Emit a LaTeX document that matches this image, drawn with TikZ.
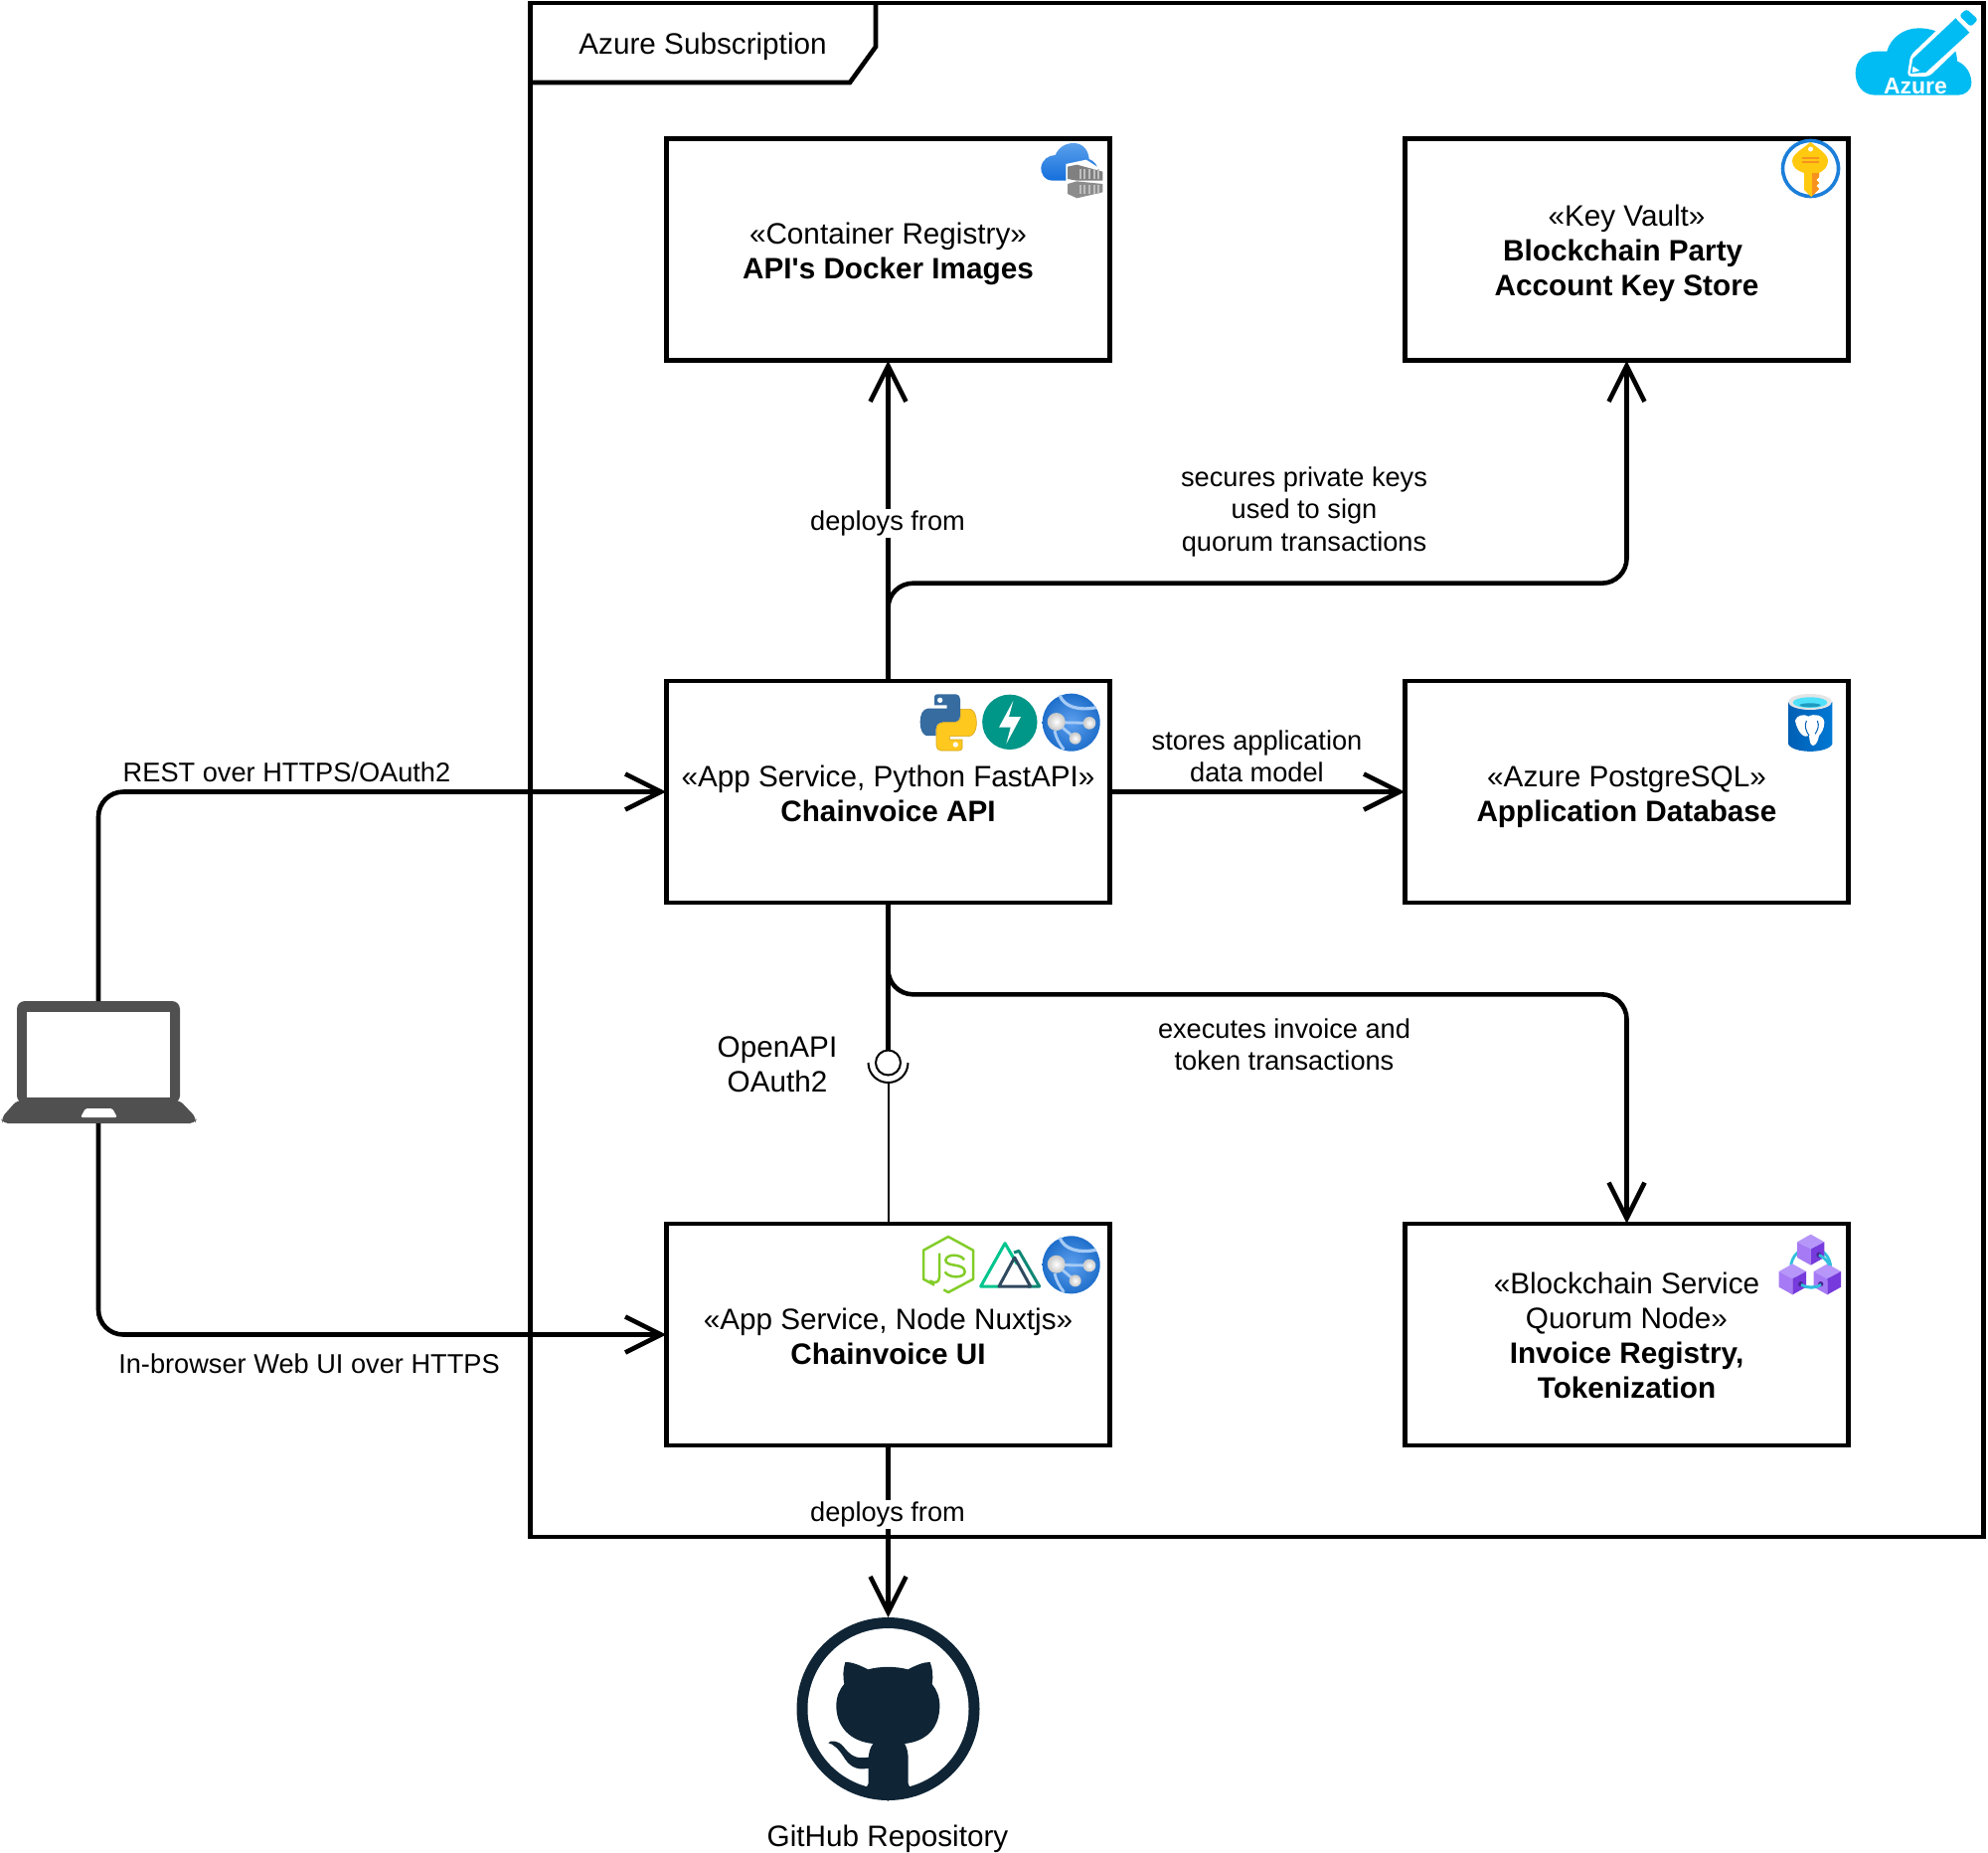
\documentclass[tikz,border=0pt]{standalone}
\usepackage{fontspec}
\setmainfont{Liberation Sans}
\usetikzlibrary{arrows.meta}
\definecolor{ghnavy}{HTML}{0F2536}
\definecolor{lapgrey}{HTML}{505050}
\definecolor{azcyan}{HTML}{00BCF2}
\definecolor{globemid}{HTML}{5EA0EF}
\definecolor{globeedge}{HTML}{1F6FCB}
\definecolor{globeline}{HTML}{A6CBF5}
\definecolor{cloudtop}{HTML}{5AA0EB}
\definecolor{cloudbot}{HTML}{146EDC}
\definecolor{kvblue}{HTML}{1B7FD9}
\definecolor{keygold}{HTML}{FFC90F}
\definecolor{keyorange}{HTML}{F7921E}
\definecolor{pyblue}{HTML}{366CA0}
\definecolor{pyyellow}{HTML}{FFC81E}
\definecolor{pyedge}{HTML}{D2A51E}
\definecolor{fastteal}{HTML}{009688}
\definecolor{pgdark}{HTML}{005FB4}
\definecolor{pglight}{HTML}{0078D4}
\definecolor{pgcyan}{HTML}{50E1FA}
\definecolor{pgdeep}{HTML}{1E9CC0}
\definecolor{nodegreen}{HTML}{83CD29}
\definecolor{nuxtgreen}{HTML}{00C58E}
\definecolor{nuxtdark}{HTML}{108775}
\definecolor{nuxtnavy}{HTML}{2F495E}
\definecolor{bccyan}{HTML}{32BEDD}
\definecolor{bctop}{HTML}{B796F9}
\definecolor{bcleft}{HTML}{A67AF4}
\definecolor{bcright}{HTML}{773ADC}
\definecolor{bcdot}{HTML}{46288F}
\tikzset{
  boxnode/.style={draw=black,line width=2.3pt,fill=white,minimum width=223pt,minimum height=111.5pt,inner sep=0pt},
  framenode/.style={draw=black,line width=2.3pt,inner sep=0pt},
  wire/.style={line width=2.3pt,rounded corners=12.5pt,shorten >=-1pt,-{Straight Barb[length=18pt,width=18pt,line width=2.3pt]}},
  plainwire/.style={line width=2.3pt},
  lbl/.style={font=\fontsize{13.6}{16.25}\selectfont,align=center,inner sep=1pt},
  lblbig/.style={font=\fontsize{14.85}{17.6}\selectfont,align=center,inner sep=1pt},
  whitebg/.style={fill=white},
  icon/.style={x=0.16667pt,y=-0.16667pt},
}
\newcommand{\appglobe}{%
  \shade[inner color=globemid,outer color=globeedge] (0,0) circle (87);
  \draw[line width=1.6pt,color=globeline] (-35,-82) .. controls (-20,-45) and (25,-35) .. (75,-45);
  \draw[line width=1.4pt,color=globeline] (-45,0) -- (55,2) (-45,0) -- (12,48) (-50,25) .. controls (-45,50) and (-35,65) .. (-22,82);
  \shade[inner color=white,outer color=black!22] (-45,-2) circle (27);
  \shade[inner color=white,outer color=black!22] (55,2) circle (19);
  \shade[inner color=white,outer color=black!22] (12,48) circle (18);
}
\begin{document}
\begin{tikzpicture}[x=0.5pt,y=-0.5pt]
\useasboundingbox (0,0) rectangle (2000,1863);
\fill[white] (0,0) rectangle (2000,1863);

% subscription frame
\node[framenode,minimum width=730.8pt,minimum height=771.5pt] (sub) at (1264.5,774.5) {};
\draw[line width=2.3pt] (881,3) -- (881,47) -- (855,83) -- (533,83);
\node[lblbig,anchor=west] (subt) at (580,46.5) {Azure Subscription};

% boxes
\node[boxnode] (reg) at (893.5,251) {};
\node[boxnode] (kv) at (1636.5,251) {};
\node[boxnode] (api) at (893.5,796.5) {};
\node[boxnode] (db) at (1636.5,796.5) {};
\node[boxnode] (ui) at (893.5,1342.5) {};
\node[boxnode] (bc) at (1636.5,1342.5) {};
\node[lblbig] (regt) at (893.5,255.5) {«Container Registry»\\\textbf{API\textquotesingle s Docker Images}};
\node[lblbig] (kvt) at (1636.5,255) {«Key Vault»\\\textbf{Blockchain Party}\kern3.8pt\null\\\textbf{Account Key Store}};
\node[lblbig] (apit) at (893.5,798) {«App Service, Python FastAPI»\\\textbf{Chainvoice API}};
\node[lblbig] (dbt) at (1636.5,801.5) {«Azure PostgreSQL»\\\textbf{Application Database}};
\node[lblbig] (uit) at (893.5,1344) {«App Service, Node Nuxtjs»\\\textbf{Chainvoice UI}};
\node[lblbig] (bct) at (1636.5,1343.5) {«Blockchain Service\\Quorum Node»\\\textbf{Invoice Registry,}\\\textbf{Tokenization}};

% laptop
\node[minimum width=96pt,minimum height=61.5pt,inner sep=0pt,outer sep=0pt] (lap) at (99,1068.5) {};
\fill[lapgrey,rounded corners=4pt] (17,1007) -- (181,1007) -- (181,1110) -- (17,1110) -- cycle;
\fill[lapgrey,rounded corners=2.5pt] (17,1107) -- (181,1107) -- (198,1125) -- (196,1130) -- (3,1130) -- (1,1125) -- cycle;
\fill[white] (27,1018) rectangle (171,1104);
\fill[white,rounded corners=0.8pt] (86,1115) -- (113,1115) -- (118,1124) -- (81,1124) -- cycle;

% github
\node[minimum width=92pt,minimum height=92pt,circle,inner sep=0pt,outer sep=0pt] (gh) at (893.5,1719) {};
\fill[ghnavy] (893.5,1719) circle (92);
\fill[white] (893.5,1719) circle (81);
\begin{scope}[shift={(770,1590)},icon]
\fill[ghnavy] (310,268) .. controls (345,258) and (395,258) .. (430,268)
  .. controls (455,255) and (480,245) .. (497,246) .. controls (505,265) and (507,290) .. (503,312)
  .. controls (518,330) and (526,352) .. (526,378) .. controls (526,440) and (490,485) .. (420,492)
  .. controls (428,505) and (431,520) .. (431,540) -- (431,612) .. controls (431,620) and (436,624) .. (445,620)
  -- (370,665) -- (295,620) .. controls (305,624) and (311,620) .. (311,612) -- (311,566)
  .. controls (270,575) and (250,555) .. (235,530) .. controls (222,510) and (205,492) .. (190,490)
  .. controls (195,480) and (220,482) .. (235,500) .. controls (255,525) and (270,540) .. (311,533)
  .. controls (313,515) and (317,503) .. (325,492) .. controls (255,485) and (214,440) .. (214,378)
  .. controls (214,352) and (222,330) .. (238,312) .. controls (233,290) and (235,265) .. (241,246)
  .. controls (260,245) and (285,255) .. (310,268) -- cycle;
\end{scope}

% connectors
\draw[wire] (api.north) -- (reg.south);
\draw[wire] (api.north) -- ++(0,-96) -| (kv.south);
\draw[wire] (api.east) -- (db.west);
\draw[wire] (api.south) -- ++(0,90) -| (bc.north);
\draw[wire] (lap.north) |- (api.west);
\draw[wire] (lap.south) |- (ui.west);
\draw[wire,shorten >=0pt] (ui.south) -- (gh.north);

% lollipop
\coordinate (lol) at (893.5,1069);
\draw[plainwire] (api.south) -- (lol);
\draw[line width=1pt,fill=white] (lol) circle (12.5);
\draw[line width=1pt] (873.5,1069) arc[start angle=180,end angle=360,radius=20,y radius=-20];
\draw[line width=1pt] (893.5,1089) -- (ui.north);

% labels
\node[lbl,whitebg] (l1) at (893,526.5) {deploys from};
\node[lbl] (l2) at (1312,514.5) {secures private keys\\used to sign\\quorum transactions};
\node[lbl] (l3) at (1264.5,761) {stores application\\data model};
\node[lbl] (l4) at (1292,1051) {executes invoice and\\token transactions};
\node[lbl] (l5) at (288.5,777) {REST over HTTPS/OAuth2};
\node[lbl] (l6) at (311,1372) {In-browser Web UI over HTTPS};
\node[lbl,whitebg] (l7) at (893,1523.5) {deploys from};
\node[lblbig] (l8) at (782,1071) {OpenAPI\\OAuth2};
\node[lblbig] (l9) at (893,1850) {GitHub Repository};

% azure icon
\begin{scope}[shift={(1860,5)},icon]
\fill[azcyan] (20,205) .. controls (20,165) and (50,140) .. (85,140) .. controls (100,140) and (110,140) .. (115,140)
  .. controls (125,100) and (165,70) .. (210,70) .. controls (280,70) and (325,110) .. (327,170)
  .. controls (355,180) and (370,210) .. (370,235) .. controls (370,258) and (350,272) .. (330,272)
  -- (80,272) .. controls (40,272) and (20,240) .. (20,205) -- cycle;
\fill[white,rounded corners=2pt] (176,216) -- (186,152) -- (330,14) -- (392,72) -- (242,216) -- cycle;
\fill[azcyan] (185,207) -- (193,162) -- (322,40) -- (364,83) -- (232,204) -- cycle;
\fill[azcyan,rounded corners=1.5pt] (333,32) -- (355,12) -- (390,44) -- (368,66) -- cycle;
\fill[white] (193,185) -- (214,198) -- (192,204) -- cycle;
\end{scope}
\node[font=\bfseries\fontsize{11.5}{12}\selectfont,text=white,inner sep=0pt] (azt) at (1927,87) {Azure};

% container registry icon
\begin{scope}[shift={(1030,130)},icon]
\shade[top color=cloudtop,bottom color=cloudbot]
  (88,155) .. controls (60,155) and (50,130) .. (52,115) .. controls (55,92) and (75,78) .. (95,78)
  .. controls (105,55) and (125,42) .. (150,42) .. controls (180,42) and (195,65) .. (197,90)
  .. controls (212,95) and (225,110) .. (225,130) -- (190,155) -- cycle;
\fill[white] (127,105) -- (188,92) -- (240,125) -- (240,195) -- (160,212) -- (127,195) -- cycle;
\fill[black!50] (132,113) -- (160,107) -- (238,128) -- (238,155) -- (160,155) -- (132,150) -- cycle;
\fill[black!45] (132,165) -- (160,157) -- (238,165) -- (238,190) -- (160,208) -- (132,195) -- cycle;
\foreach \ribx in {170,184,198,212,226} {
  \draw[black!25,line width=0.9pt] (\ribx,120) -- (\ribx,150);
  \draw[black!25,line width=0.9pt] (\ribx,168) -- (\ribx,195);
}
\end{scope}

% key vault icon
\begin{scope}
\fill[white] (1821.5,169.5) circle (28);
\draw[kvblue,line width=1.8pt] (1821.5,169.5) circle (28);
\fill[keygold] (1821.5,143) .. controls (1830,150) and (1839,155) .. (1839,162)
  .. controls (1839,168) and (1834,172) .. (1830,174) -- (1830,178) -- (1827,181) -- (1830,184) -- (1827,187) -- (1830,190) -- (1822,198) -- (1815,191) -- (1815,174)
  .. controls (1808,172) and (1803,168) .. (1803,162) .. controls (1803,155) and (1813,150) .. (1821.5,143) -- cycle;
\fill[keyorange] (1823,174) -- (1830,174) -- (1830,178) -- (1827,181) -- (1830,184) -- (1827,187) -- (1830,190) -- (1823,197) -- cycle;
\fill[white] (1821.5,150) circle (2.5);
\draw[keyorange,line width=0.9pt] (1813,159) -- (1830,159) (1813,163) -- (1830,163);
\end{scope}

% python icon
\begin{scope}[shift={(880,670)},icon]
\def\snake{(180,92) .. controls (180,87) and (185,85) .. (190,85) -- (245,85) .. controls (253,85) and (258,92) .. (258,100) -- (258,150)
 .. controls (258,162) and (248,170) .. (235,170) -- (205,170) .. controls (192,170) and (185,178) .. (185,190) -- (185,210) -- (155,210)
 .. controls (143,205) and (137,190) .. (137,170) .. controls (137,145) and (145,130) .. (160,128) -- (218,128) -- (218,118) -- (180,118) -- cycle}
\fill[pyblue] \snake;
\begin{scope}[shift={(444,340)},xscale=-1,yscale=-1]
\filldraw[fill=pyyellow,draw=pyedge,line width=0.3pt] \snake;
\end{scope}
\fill[white] (197,103) circle (8);
\fill[white] (244,237) circle (8);
% fastapi
\fill[fastteal] (407.5,169) circle (83);
\fill[white] (418,105) -- (375,185) -- (410,185) -- (397,235) -- (441,153) -- (405,153) -- cycle;
\begin{scope}[shift={(593,170)}]
\appglobe
\end{scope}
\end{scope}

% postgres icon
\begin{scope}[shift={(1760,680)},icon]
\shade[left color=pgdark,right color=pglight]
 (117,78) -- (117,205) .. controls (130,235) and (237,235) .. (250,205) -- (250,78) -- cycle;
\fill[black!10] (183,78) ellipse (66 and 24);
\fill[pgcyan] (183,80) ellipse (52 and 16);
\fill[pgdeep] (183,88) ellipse (32 and 6);
\fill[white] (138,135) .. controls (140,120) and (165,112) .. (178,122) .. controls (195,112) and (225,118) .. (226,140)
 .. controls (226,160) and (215,175) .. (210,180) .. controls (207,195) and (202,208) .. (192,210) .. controls (182,208) and (182,195) .. (180,180)
 .. controls (165,190) and (145,170) .. (138,135) -- cycle;
\draw[pgdark,line width=0.5pt] (172,135) .. controls (165,150) and (170,165) .. (180,180) (205,135) .. controls (212,150) and (205,165) .. (198,175);
\end{scope}

% ui icons
\begin{scope}[shift={(880,1220)},icon]
\draw[nodegreen,line width=1.25pt,line join=round] (208,232) -- (222,240) -- (297,200) -- (297,113) -- (222,72) -- (147,113) -- (147,200) -- (180,218);
\draw[nodegreen,line width=1.25pt] (195,122) -- (195,195) .. controls (195,212) and (178,213) .. (166,205);
\draw[nodegreen,line width=1.25pt] (270,142) .. controls (262,125) and (218,122) .. (214,142) .. controls (212,165) and (272,150) .. (272,178) .. controls (272,198) and (222,198) .. (212,178);
\draw[nuxtgreen,line width=1.5pt,line join=round] (375,222) -- (320,222) -- (393,92) -- (430,155);
\draw[nuxtdark,line width=1.5pt,line join=round] (420,120) -- (435,115) -- (497,222) -- (462,222);
\draw[nuxtnavy,line width=1.5pt,line join=round] (375,222) -- (422,135) -- (470,222) -- cycle;
\begin{scope}[shift={(593,157)}]
\appglobe
\end{scope}
\end{scope}

% blockchain icon
\begin{scope}[shift={(1770,1230)},icon]
\draw[bccyan,line width=1.4pt] (155,135) circle (60);
\foreach \cx/\cy in {155/82,100/171,205/171}{
 \begin{scope}[shift={(\cx,\cy)}]
 \fill[bctop] (0,-47) -- (41,-24) -- (0,-2) -- (-41,-24) -- cycle;
 \fill[bcleft] (-41,-24) -- (0,-2) -- (0,46) -- (-41,23) -- cycle;
 \fill[bcright] (41,-24) -- (0,-2) -- (0,46) -- (41,23) -- cycle;
 \end{scope}
}
\fill[bcdot] (180,97) circle (8) (125,185) circle (8) (185,185) circle (8);
\draw[bccyan,line width=1.4pt] (126,187) .. controls (145,198) and (170,198) .. (186,187);
\draw[bccyan,line width=1.4pt] (180,97) .. controls (195,105) and (205,115) .. (212,128);
\end{scope}
\end{tikzpicture}
\end{document}
